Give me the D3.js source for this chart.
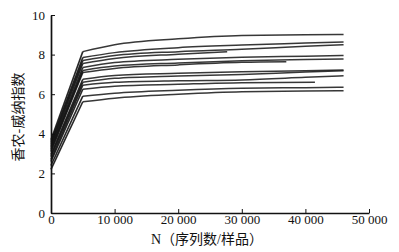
<!DOCTYPE html>
<html>
<head>
<meta charset="utf-8">
<script src="https://cdn.jsdelivr.net/npm/d3@7"></script>
<style>
  body { margin: 0; background: #fff; }
  svg text { font-family: "Liberation Serif", "DejaVu Serif", serif; }
</style>
</head>
<body>
<div id="canvas"></div>
<script>
// sequencing depth sampled along the rarefaction curves
var sampleN = [0, 5000, 10000, 20000, 30000, 40000, 46000];
// where each curve stops (some samples have fewer sequences)
var curveEnd = [46000, 46000, 46000, 27700, 46000, 46000, 37000, 46000, 46000, 46000, 41500, 46000, 46000];
// Shannon-Wiener index read at sampleN (last value sits at curveEnd)
var shannon = [
  [3.7, 8.15, 8.5, 8.8, 8.97, 9.0, 9.02],
  [3.6, 7.85, 8.1, 8.35, 8.48, 8.58, 8.64],
  [3.5, 7.7, 7.95, 8.15, 8.27, 8.42, 8.5],
  [3.4, 7.55, 7.8, 8.02, 8.15],
  [3.3, 7.35, 7.6, 7.76, 7.86, 7.92, 7.96],
  [3.2, 7.2, 7.42, 7.58, 7.69, 7.75, 7.78],
  [3.1, 7.1, 7.3, 7.48, 7.61, 7.64],
  [2.95, 6.75, 6.95, 7.06, 7.14, 7.18, 7.22],
  [2.85, 6.6, 6.8, 6.92, 7.0, 7.12, 7.18],
  [2.7, 6.45, 6.6, 6.68, 6.72, 6.85, 6.93],
  [2.6, 6.25, 6.4, 6.5, 6.58, 6.6],
  [2.4, 5.9, 6.05, 6.2, 6.3, 6.33, 6.35],
  [2.2, 5.62, 5.8, 6.0, 6.13, 6.16, 6.18]
];
var xTicks = [0, 10000, 20000, 30000, 40000, 50000];
var yTicks = [0, 2, 4, 6, 8, 10];
var xTitle = "N（序列数/样品）";
var yTitle = "香农-威纳指数";

var margin = { top: 15, right: 30, bottom: 39, left: 51 },
  width = 399 - margin.left - margin.right,
  height = 252 - margin.top - margin.bottom;

var svg = d3.select("#canvas").append("svg")
  .attr("width", 399)
  .attr("height", 252);

var g = svg.append("g")
  .attr("transform", "translate(" + margin.left + "," + margin.top + ")");

var x = d3.scaleLinear().domain([0, 50000]).range([0, width]);
var y = d3.scaleLinear().domain([0, 10]).range([height, 0]);

// build point lists
var curves = shannon.map(function(vals, i) {
  return vals.map(function(v, j) {
    var n = j === vals.length - 1 ? curveEnd[i] : sampleN[j];
    return [n, v];
  });
});

var straight = d3.line()
  .x(function(d) { return x(d[0]); })
  .y(function(d) { return y(d[1]); });
var smooth = d3.line()
  .curve(d3.curveMonotoneX)
  .x(function(d) { return x(d[0]); })
  .y(function(d) { return y(d[1]); });

curves.forEach(function(pts) {
  g.append("path")
    .attr("d", straight(pts.slice(0, 2)))
    .attr("fill", "none")
    .attr("stroke", "#111")
    .attr("stroke-width", 1.6)
    .attr("stroke-opacity", 0.9);
  g.append("path")
    .attr("d", smooth(pts.slice(1)))
    .attr("fill", "none")
    .attr("stroke", "#151515")
    .attr("stroke-width", 1.5)
    .attr("stroke-opacity", 0.85);
});

// axes, ticks pointing inward
var xAxis = g.append("g")
  .attr("transform", "translate(0," + height + ")")
  .call(d3.axisBottom(x).tickValues(xTicks).tickSize(-4).tickSizeOuter(0)
    .tickFormat(function(d) { return d3.format(",")(d).replace(",", " "); }));
var yAxis = g.append("g")
  .call(d3.axisLeft(y).tickValues(yTicks).tickSize(-4).tickSizeOuter(0));

[xAxis, yAxis].forEach(function(a) {
  a.select(".domain").attr("stroke", "#111").attr("stroke-width", 1.7);
  a.selectAll(".tick line").attr("stroke", "#111").attr("stroke-width", 1);
  a.selectAll(".tick text")
    .attr("fill", "#111")
    .style("font-family", "'Liberation Serif', serif")
    .style("font-size", "13px");
});
xAxis.selectAll(".tick text").attr("dy", "0.2em").attr("y", 8);
yAxis.selectAll(".tick text").attr("x", -6);

// titles
svg.append("text")
  .attr("x", margin.left + width / 2 - 3)
  .attr("y", 244)
  .attr("text-anchor", "middle")
  .attr("fill", "#111")
  .style("font-family", "'Liberation Serif', 'Noto Sans CJK SC', serif")
  .style("font-size", "14px")
  .text(xTitle);

svg.append("text")
  .attr("transform", "translate(23," + (margin.top + height / 2 + 3) + ") rotate(-90)")
  .attr("text-anchor", "middle")
  .attr("fill", "#111")
  .style("font-family", "'Noto Sans CJK SC', sans-serif")
  .style("font-size", "14px")
  .text(yTitle);
</script>
</body>
</html>
